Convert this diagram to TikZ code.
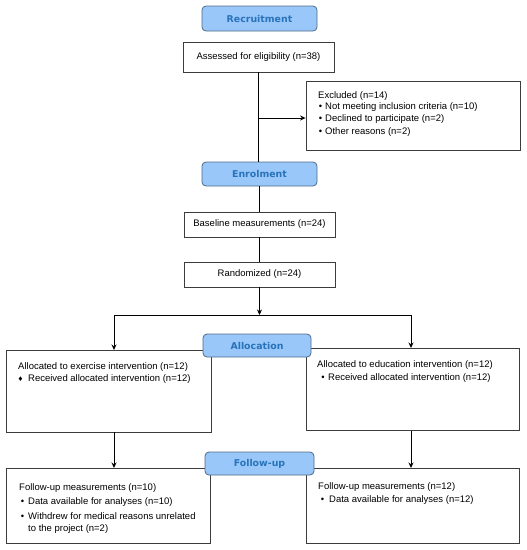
\documentclass[tikz,border=0pt]{standalone}
\usepackage{fontspec}
\setmainfont{Liberation Sans}
\newfontfamily\headfont{DejaVu Sans}
\usetikzlibrary{arrows.meta}
\definecolor{headfill}{RGB}{153,199,250}
\definecolor{headdraw}{RGB}{80,105,135}
\definecolor{headtext}{RGB}{40,115,185}
\definecolor{boxdraw}{RGB}{60,60,60}
\tikzset{
  head/.style={draw=headdraw, fill=headfill, rounded corners=4pt, line width=0.8pt,
    minimum width=108pt, minimum height=23pt, inner sep=0pt,
    font=\headfont\bfseries\fontsize{9.4}{11}\selectfont, text=headtext},
  box/.style={draw=boxdraw, fill=white, line width=0.8pt, inner sep=0pt},
  ctext/.style={font=\fontsize{9.5}{12}\selectfont, inner sep=0pt},
  ltext/.style={font=\fontsize{9.5}{12}\selectfont, inner sep=0pt, anchor=base west},
  bul/.style={font=\fontsize{9.5}{12}\selectfont, inner sep=0pt, anchor=base},
  dia/.style={font=\headfont\fontsize{6.5}{8}\selectfont, inner sep=0pt, anchor=base},
  conn/.style={line width=1pt, black},
  arr/.style={line width=1pt, black, -{Stealth[length=5.5pt,width=5pt]}}
}
\begin{document}
\begin{tikzpicture}[x=1pt,y=-1pt]
\useasboundingbox (0,0) rectangle (527,550);
% boxes
\node[box, minimum width=151pt, minimum height=30pt, ctext] (assess) at (258.5,57) {Assessed for eligibility (n=38)};
\node[box, minimum width=214pt, minimum height=69pt] (excl) at (413,115.5) {};
\node[box, minimum width=151pt, minimum height=25pt, ctext] (base) at (259.5,224.5) {Baseline measurements (n=24)};
\node[box, minimum width=151pt, minimum height=25pt, ctext] (rand) at (259.5,274.5) {Randomized (n=24)};
\node[box, minimum width=205pt, minimum height=82pt] (allocL) at (108.5,391) {};
\node[box, minimum width=213pt, minimum height=82pt] (allocR) at (412.5,389.5) {};
\node[box, minimum width=204pt, minimum height=75pt] (followL) at (108.5,505.5) {};
\node[box, minimum width=213pt, minimum height=75pt] (followR) at (412.5,505.5) {};
% excluded text
\node[ltext] (ex0) at (318,98.5) {Excluded (n=14)};
\node[bul] (exb1) at (320.5,109.5) {•};
\node[ltext] (ex1) at (325,109.5) {Not meeting inclusion criteria (n=10)};
\node[bul] (exb2) at (320.5,121.5) {•};
\node[ltext] (ex2) at (325,121.5) {Declined to participate (n=2)};
\node[bul] (exb3) at (320.5,134) {•};
\node[ltext] (ex3) at (325,134) {Other reasons (n=2)};
% allocation texts
\node[ltext] (al0) at (18,369.5) {Allocated to exercise intervention (n=12)};
\node[dia] (alb1) at (20.5,381.5) {♦};
\node[ltext] (al1) at (28,381.5) {Received allocated intervention (n=12)};
\node[ltext] (ar0) at (317,367.5) {Allocated to education intervention (n=12)};
\node[bul] (arb1) at (323,380.5) {•};
\node[ltext] (ar1) at (328,380.5) {Received allocated intervention (n=12)};
% follow-up texts
\node[ltext] (fl0) at (19,490.5) {Follow-up measurements (n=10)};
\node[bul] (flb1) at (22.5,504.5) {•};
\node[ltext] (fl1) at (28,504.5) {Data available for analyses (n=10)};
\node[bul] (flb2) at (22.5,519.5) {•};
\node[ltext] (fl2) at (28,519.5) {Withdrew for medical reasons unrelated};
\node[ltext] (fl3) at (28,531.5) {to the project (n=2)};
\node[ltext] (fr0) at (318,489.5) {Follow-up measurements (n=12)};
\node[bul] (frb1) at (322.5,502.5) {•};
\node[ltext] (fr1) at (329,502.5) {Data available for analyses (n=12)};
% headings
\node[head, minimum width=115pt, minimum height=25pt] (recruit) at (259.5,18.5) {Recruitment};
\node[head, minimum width=115pt, minimum height=24pt] (enrol) at (259.5,174) {Enrolment};
% coordinates
\coordinate (s1) at (258.5,118);
\coordinate (s2) at (259.5,315);
\coordinate (l2) at (114,315);
\coordinate (r2) at (411,315);
\coordinate (l3) at (114,350);
\coordinate (r3) at (411,348);
\coordinate (l4) at (114,468);
\coordinate (r4) at (411,468);
% connectors
\draw[conn] (assess.south) -- (assess.south |- enrol.north);
\draw[arr] (s1) -- (s1 -| excl.west);
\draw[conn] (enrol.south) -- (base.north);
\draw[conn] (base.south) -- (rand.north);
\draw[arr] (rand.south) -- (s2);
\draw[conn] (l2) -- (r2);
\draw[arr] (l2) -- (l3);
\draw[arr] (r2) -- (r3);
\draw[arr] (l3 |- allocL.south) -- (l4);
\draw[arr] (r3 |- allocR.south) -- (r4);
% headings on top
\node[head] (alloc) at (257,345.5) {Allocation};
\node[head, minimum width=109pt] (follow) at (259.5,463.5) {Follow-up};
\end{tikzpicture}
\end{document}
